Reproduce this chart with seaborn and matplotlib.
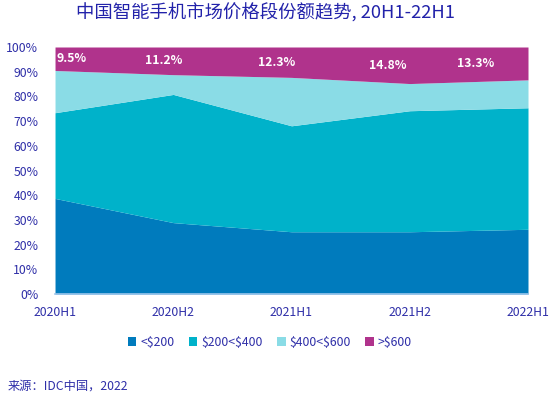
import numpy as np
import matplotlib
matplotlib.use('Agg')
import matplotlib.pyplot as plt
from matplotlib.patches import Patch
import seaborn as sns

# share of each price band (%)
periods = ['2020H1', '2020H2', '2021H1', '2021H2', '2022H1']
band_names = [r'<\$200', r'\$200<\$400', r'\$400<\$600', r'>\$600']
under_200 = [38.7, 28.9, 25.2, 25.2, 26.2]
from_200_400 = [34.7, 51.9, 42.9, 49.0, 49.2]
from_400_600 = [17.1, 8.0, 19.6, 11.0, 11.3]
over_600 = [9.5, 11.2, 12.3, 14.8, 13.3]
over_600_labels = ['9.5%', '11.2%', '12.3%', '14.8%', '13.3%']

sns.set_theme(style='white')
plt.rcParams['font.family'] = ['Noto Sans CJK SC', 'DejaVu Sans']

colors = ['#007bbd', '#00b2ca', '#8adce6', '#b0338c']
text_color = '#2f2fa8'

fig = plt.figure(figsize=(5.53, 3.95), dpi=100)
ax = fig.add_axes([0.0995, 0.2557, 0.8553, 0.6253])

x = np.arange(len(periods))
ax.stackplot(x, under_200, from_200_400, from_400_600, over_600,
             colors=colors, linewidth=0)

# labels for the top band
top = np.array(under_200) + np.array(from_200_400) + np.array(from_400_600)
label_x = [0.14, 0.92, 1.87, 2.81, 3.56]
for lx, t, val, lab in zip(label_x, top, over_600, over_600_labels):
    ax.text(lx, t + val / 2, lab, color='white', fontsize=8.8,
            fontweight='bold', ha='center', va='center')

ax.set_xlim(0, len(periods) - 1)
ax.set_ylim(0, 100)
ax.set_xticks(x)
ax.set_xticklabels(periods)
ax.set_yticks(np.arange(0, 101, 10))
ax.set_yticklabels([f'{v}%' for v in range(0, 101, 10)])
ax.tick_params(axis='both', length=0, labelsize=8.8, labelcolor=text_color)
ax.tick_params(axis='x', pad=9)
ax.tick_params(axis='y', pad=12)

for side in ['top', 'right', 'left']:
    ax.spines[side].set_visible(False)
ax.spines['bottom'].set_color('#9cc6ec')
ax.spines['bottom'].set_linewidth(1.2)

fig.text(0.481, 0.967, '中国智能手机市场价格段份额趋势, 20H1-22H1',
         ha='center', va='center', fontsize=13.2, color='#2222aa')

handles = [Patch(facecolor=c, edgecolor='none') for c in colors]
fig.legend(handles, band_names, loc='center', bbox_to_anchor=(0.488, 0.134),
           ncol=4, frameon=False, fontsize=8.8, labelcolor=text_color,
           handlelength=0.7, handleheight=0.7, handletextpad=0.3,
           columnspacing=1.2)

fig.text(0.0145, 0.023, '来源：IDC中国，2022', ha='left', va='center',
         fontsize=8.8, color=text_color)

fig.savefig('out.png', dpi=100)
